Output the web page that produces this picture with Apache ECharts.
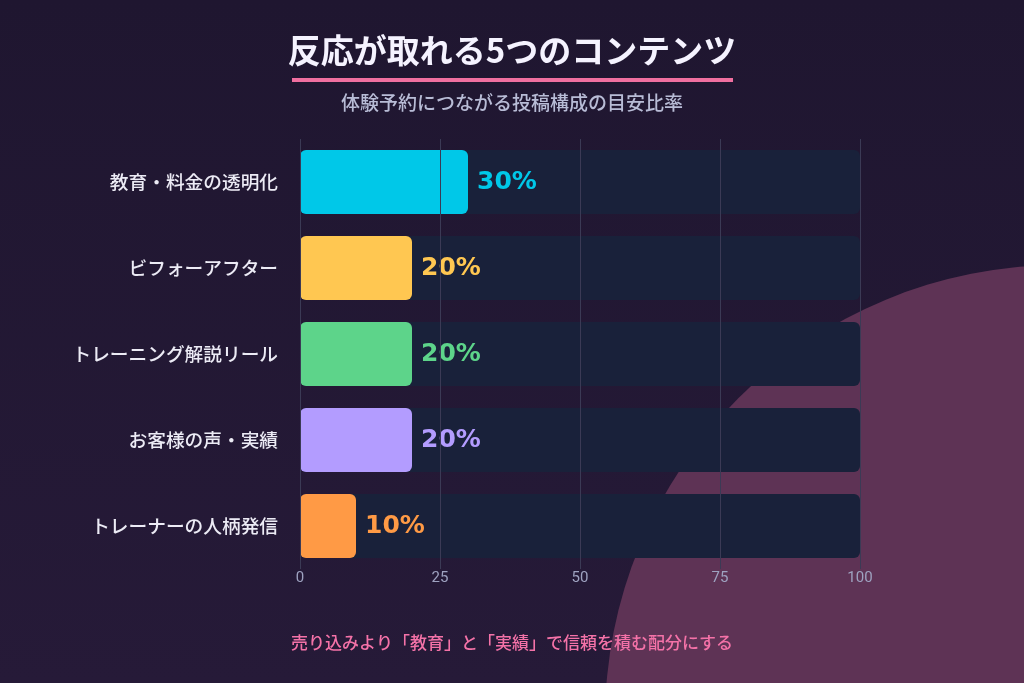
<!DOCTYPE html>
<html>
<head>
<meta charset="utf-8">
<script src="https://cdn.jsdelivr.net/npm/echarts@6/dist/echarts.min.js"></script>
<style>
html,body{margin:0;padding:0;background:#1f1730;}
#chartBar{width:1024px;height:683px;}
</style>
</head>
<body>
<div id="chartBar"></div>
<script>
// データ
var categories = ['教育・料金の透明化', 'ビフォーアフター', 'トレーニング解説リール', 'お客様の声・実績', 'トレーナーの人柄発信'];
var values = [30, 20, 20, 20, 10];
var trackValues = [100, 100, 100, 100, 100];
var barColors = ['#00c8e8', '#ffc751', '#5dd48a', '#b39cff', '#ff9a45'];
var tickLabels = [0, 25, 50, 75, 100];

var fontJP = '"Noto Sans CJK JP", "Noto Sans", sans-serif';

var myChart = echarts.init(document.getElementById('chartBar'));
var option = {
    backgroundColor: new echarts.graphic.LinearGradient(0, 0, 0, 1, [
        {offset: 0, color: '#1f1630'},
        {offset: 1, color: '#261a38'}
    ]),
    animation: false,
    title: [{
        text: '反応が取れる5つのコンテンツ',
        left: 'center',
        top: 29,
        textStyle: {
            color: '#f5f3ff',
            fontSize: 33,
            fontWeight: 'bold',
            fontFamily: fontJP
        }
    }, {
        text: '体験予約につながる投稿構成の目安比率',
        left: 'center',
        top: 88,
        textStyle: {
            color: '#b8bcd6',
            fontSize: 19,
            fontWeight: 500,
            fontFamily: fontJP
        }
    }, {
        text: '売り込みより「教育」と「実績」で信頼を積む配分にする',
        left: 'center',
        top: 629,
        textStyle: {
            color: '#f472a8',
            fontSize: 17,
            fontWeight: 500,
            fontFamily: fontJP
        }
    }],
    graphic: [{
        type: 'circle',
        z: -10,
        silent: true,
        shape: {cx: 1060, cy: 720, r: 455},
        style: {fill: '#5e3355'}
    }, {
        type: 'rect',
        z: 10,
        silent: true,
        shape: {x: 292, y: 78, width: 441, height: 4},
        style: {fill: '#f06fa0'}
    }],
    grid: {
        left: 300,
        right: 164,
        top: 139,
        bottom: 114,
        containLabel: false
    },
    xAxis: {
        type: 'value',
        min: 0,
        max: 100,
        interval: 25,
        z: 5,
        axisLine: {show: false},
        axisTick: {show: false},
        splitLine: {
            show: true,
            lineStyle: {color: '#3b3a55', width: 1}
        },
        axisLabel: {
            color: '#9ea2c0',
            fontSize: 15,
            margin: 2,
            fontFamily: 'Roboto, sans-serif',
            formatter: function (v) {
                return tickLabels.indexOf(v) >= 0 ? String(v) : '';
            }
        }
    },
    yAxis: {
        type: 'category',
        inverse: true,
        data: categories,
        axisLine: {show: false},
        axisTick: {show: false},
        axisLabel: {
            color: '#ecebf5',
            fontSize: 18.7,
            fontWeight: 500,
            margin: 22,
            fontFamily: fontJP
        }
    },
    series: [{
        // 背景トラック
        type: 'bar',
        data: trackValues,
        barWidth: 64,
        silent: true,
        itemStyle: {
            color: '#19213a',
            borderRadius: 6
        },
        z: 1
    }, {
        type: 'bar',
        data: values.map(function (v, i) {
            return {
                value: v,
                itemStyle: {color: barColors[i]},
                label: {color: barColors[i]}
            };
        }),
        barWidth: 64,
        barGap: '-100%',
        itemStyle: {borderRadius: 6},
        label: {
            show: true,
            position: 'right',
            distance: 9,
            fontSize: 25,
            fontWeight: 'bold',
            fontFamily: '"DejaVu Sans", sans-serif',
            formatter: '{c}%'
        },
        z: 2
    }]
};
myChart.setOption(option);
</script>
</body>
</html>
